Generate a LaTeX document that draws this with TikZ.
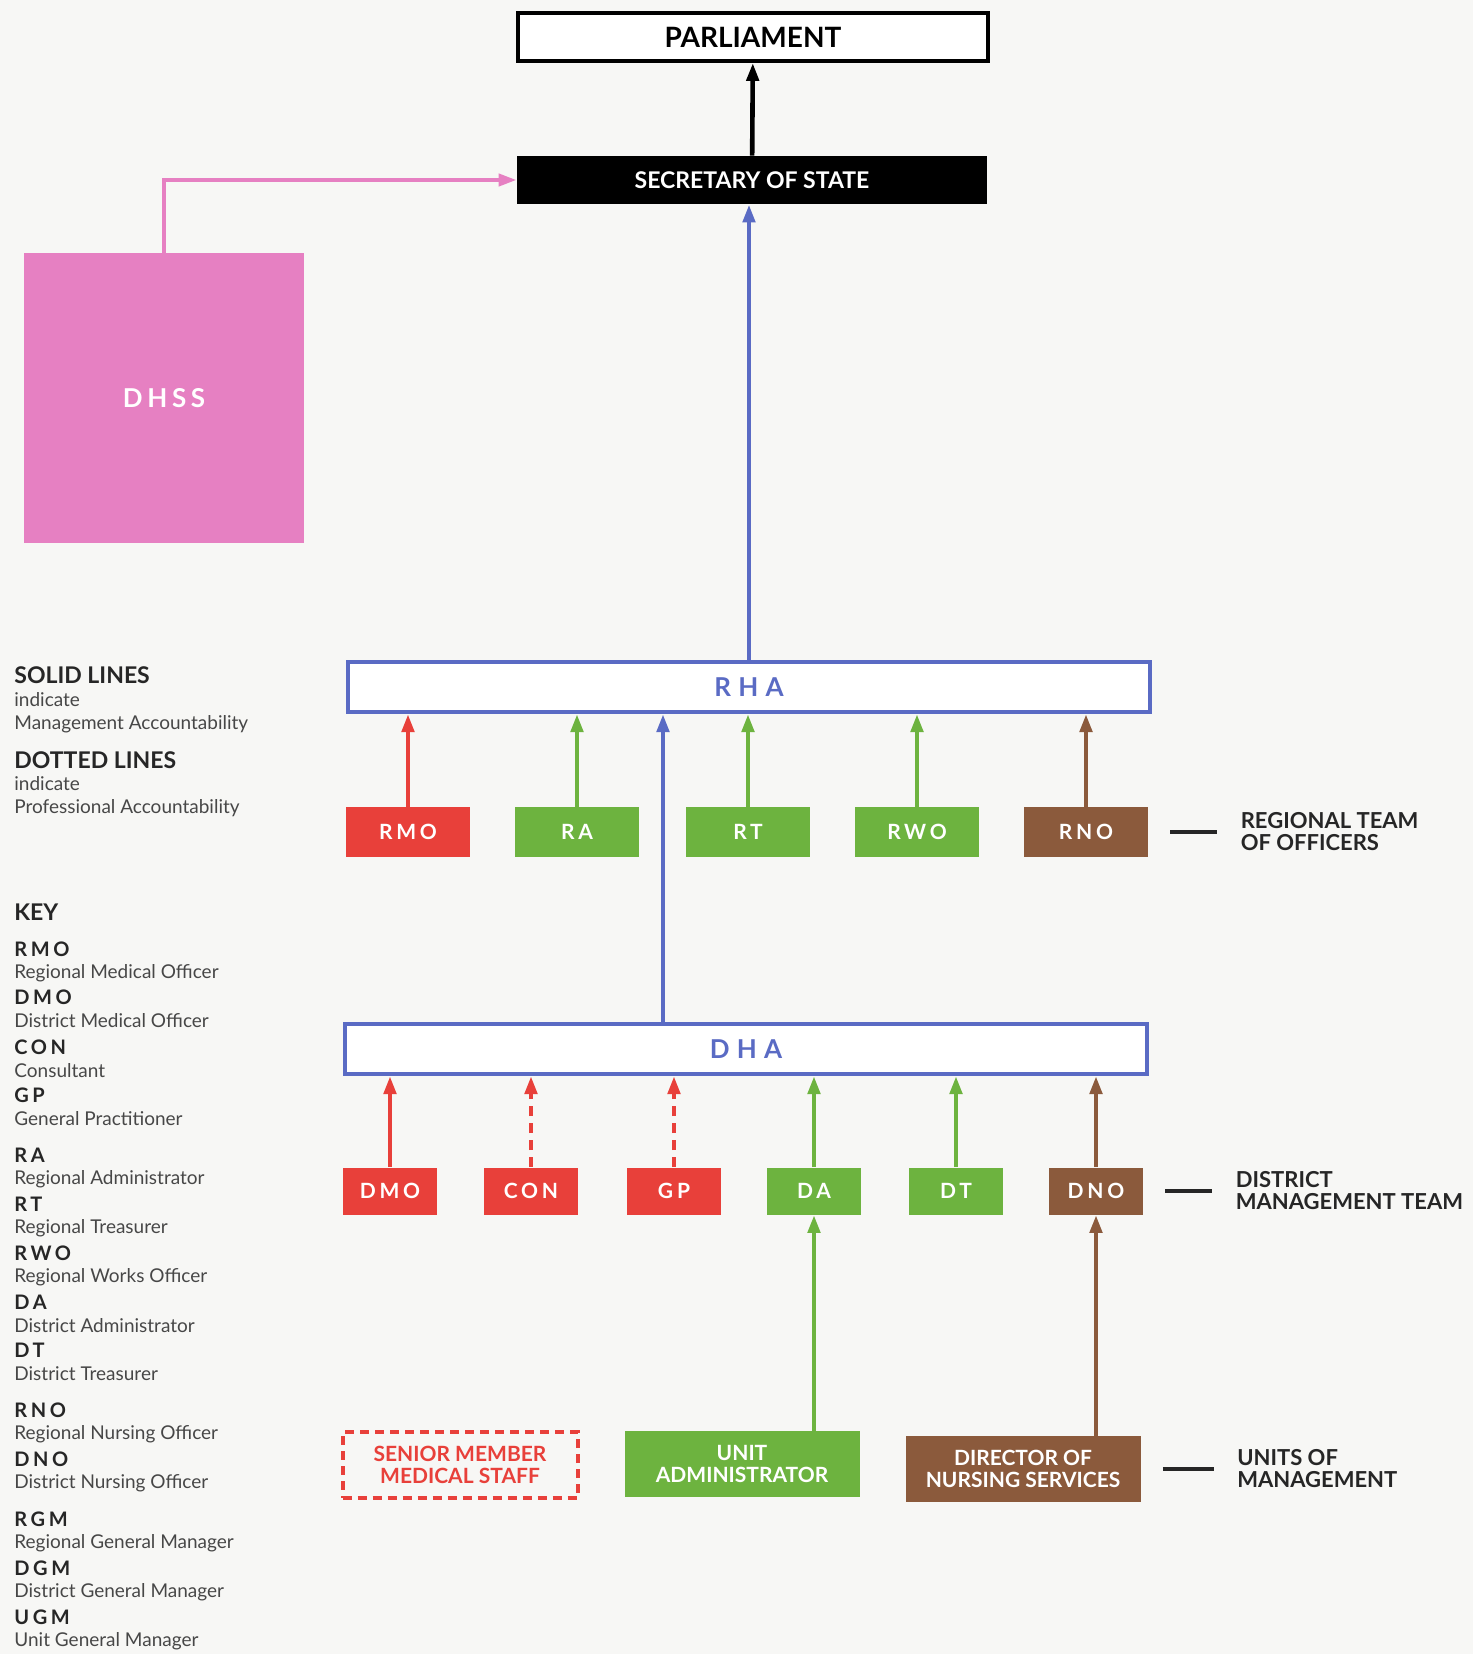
\documentclass[tikz,border=0pt]{standalone}
\usepackage{fontspec}
\setmainfont{Lato}
\newfontfamily\spaced{Lato}[LetterSpace=18]
\newfontfamily\widespaced{Lato}[LetterSpace=28]
\usetikzlibrary{arrows.meta,positioning}
\definecolor{rdx}{HTML}{E8403A}
\definecolor{grx}{HTML}{6DB33F}
\definecolor{brx}{HTML}{8B5A3C}
\definecolor{blx}{HTML}{5A6BC4}
\definecolor{pkx}{HTML}{E680C2}
\definecolor{txx}{HTML}{262626}
\definecolor{bgx}{HTML}{F7F7F5}
\tikzset{
    acc/.style={-{Triangle[length=9pt,width=6pt]},line width=2.3pt},
    prof/.style={acc,dash pattern=on 5pt off 3.5pt},
    topbox/.style={inner sep=0pt,minimum width=235pt,minimum height=24pt,font=\bfseries\fontsize{14}{15}\selectfont},
    bodybox/.style={draw=blx,line width=2pt,fill=white,inner sep=0pt,minimum width=401pt,minimum height=25pt,text=blx,font=\widespaced\bfseries\fontsize{13}{14}\selectfont},
    regbox/.style={inner sep=0pt,minimum width=62pt,minimum height=25pt,text=white,font=\spaced\bfseries\fontsize{10.5}{12}\selectfont},
    disbox/.style={regbox,minimum width=47pt,minimum height=23.5pt},
    unitbox/.style={inner sep=0pt,minimum width=117.5pt,minimum height=33pt,align=center,text=white,font=\bfseries\fontsize{10.5}{11}\selectfont},
    teamlabel/.style={inner sep=0pt,align=left,text=txx,font=\bfseries\fontsize{11}{11}\selectfont},
    keyhead/.style={anchor=west,inner sep=0pt,text=txx,font=\bfseries\fontsize{11.5}{12}\selectfont},
    keyabbr/.style={anchor=west,inner sep=0pt,text=txx,font=\spaced\bfseries\fontsize{10}{12}\selectfont},
    keytext/.style={anchor=west,inner sep=0pt,text=txx!85,font=\fontsize{9.5}{11}\selectfont}
}
\begin{document}
\begin{tikzpicture}[x=0.5pt,y=-0.5pt]
    \fill [bgx] (0,0) rectangle (1473,1654);
    \useasboundingbox (0,0) rectangle (1473,1654);
    % top of the chain
    \node (parl) [topbox,draw=black,line width=1.8pt,fill=white] at (753,37) {PARLIAMENT};
    \node (sec) [topbox,fill=black,text=white,font=\bfseries\fontsize{11.5}{12}\selectfont] at (752,180) {SECRETARY OF STATE};
    \node (dhss) [fill=pkx,inner sep=0pt,minimum width=140pt,minimum height=145pt,text=white,font=\spaced\bfseries\fontsize{13}{14}\selectfont] at (164,398) {DHSS};
    \draw [acc] (sec) -- (parl);
    \draw [acc,pkx,line width=2pt] (dhss.north) |- (sec.west);
    % authorities
    \node (rha) [bodybox] at (749,687) {RHA};
    \node (dha) [bodybox] at (746,1049) {DHA};
    \draw [acc,blx] (rha.north) -- (rha.north |- sec.south);
    \coordinate (dhatap) at ([xshift=-41.5pt]dha.north);
    \draw [acc,blx] (dhatap) -- (dhatap |- rha.south);
    % regional team of officers
    \foreach \name/\txt/\col/\x in {rmo/RMO/rdx/408,ra/RA/grx/577,rt/RT/grx/748,rwo/RWO/grx/917,rno/RNO/brx/1086} {
        \node (\name) [regbox,fill=\col] at (\x,832) {\txt};
        \draw [acc,\col] (\name) -- (\name |- rha.south);
    }
    % district management team
    \foreach \name/\txt/\col/\x in {dmo/DMO/rdx/390,con/CON/rdx/531,gp/GP/rdx/674,da/DA/grx/814,dt/DT/grx/956,dno/DNO/brx/1096} {
        \node (\name) [disbox,fill=\col] at (\x,1191) {\txt};
    }
    \foreach \name/\col in {dmo/rdx,da/grx,dt/grx,dno/brx} {
        \draw [acc,\col] (\name) -- (\name |- dha.south);
    }
    \foreach \name in {con,gp} {
        \draw [prof,rdx] (\name) -- (\name |- dha.south);
    }
    % units of management
    \node (senior) [unitbox,draw=rdx,line width=2pt,dash pattern=on 4.5pt off 3pt,text=rdx] at (460,1465) {SENIOR MEMBER\\MEDICAL STAFF};
    \node (unitadm) [unitbox,fill=grx] at (742,1464) {UNIT\\ADMINISTRATOR};
    \node (dirnurs) [unitbox,fill=brx] at (1023,1469) {DIRECTOR OF\\NURSING SERVICES};
    \draw [acc,grx] (da.south |- unitadm.north) -- (da);
    \draw [acc,brx] (dno.south |- dirnurs.north) -- (dno);
    % tier labels
    \node (lblregion) [teamlabel,right=46pt of rno,anchor=west] {REGIONAL TEAM\\OF OFFICERS};
    \node (lbldistrict) [teamlabel,right=46pt of dno,anchor=west] {DISTRICT\\MANAGEMENT TEAM};
    \node (lblunits) [teamlabel,right=48pt of dirnurs,anchor=west] {UNITS OF\\MANAGEMENT};
    \foreach \tier/\lbl in {rno/lblregion,dno/lbldistrict,dirnurs/lblunits} {
        \draw [txx,line width=2pt] ([xshift=11pt]\tier.east) -- ([xshift=-11.5pt]\lbl.west);
    }
    % line legend
    \node (solid) [keyhead] at (14,675) {SOLID LINES};
    \node (solidind) [keytext] at (14,700) {indicate};
    \node (solidtxt) [keytext] at (14,724) {Management Accountability};
    \node (dotted) [keyhead] at (14,760) {DOTTED LINES};
    \node (dottedind) [keytext] at (14,784) {indicate};
    \node (dottedtxt) [keytext] at (14,808) {Professional Accountability};
    % key
    \node (key) [keyhead] at (14,912) {KEY};
    \foreach \abbr/\full/\y in {RMO/Regional Medical Officer/949,DMO/District Medical Officer/997,CON/Consultant/1047,GP/General Practitioner/1095,RA/Regional Administrator/1155,RT/Regional Treasurer/1204,RWO/Regional Works Officer/1253,DA/District Administrator/1302,DT/District Treasurer/1350,RNO/Regional Nursing Officer/1410,DNO/District Nursing Officer/1459,RGM/Regional General Manager/1519,DGM/District General Manager/1568,UGM/Unit General Manager/1617} {
        \node (key\abbr) [keyabbr] at (14,\y) {\abbr};
        \node (txt\abbr) [keytext] at (14,\y+24) {\full};
    }
\end{tikzpicture}
\end{document}
